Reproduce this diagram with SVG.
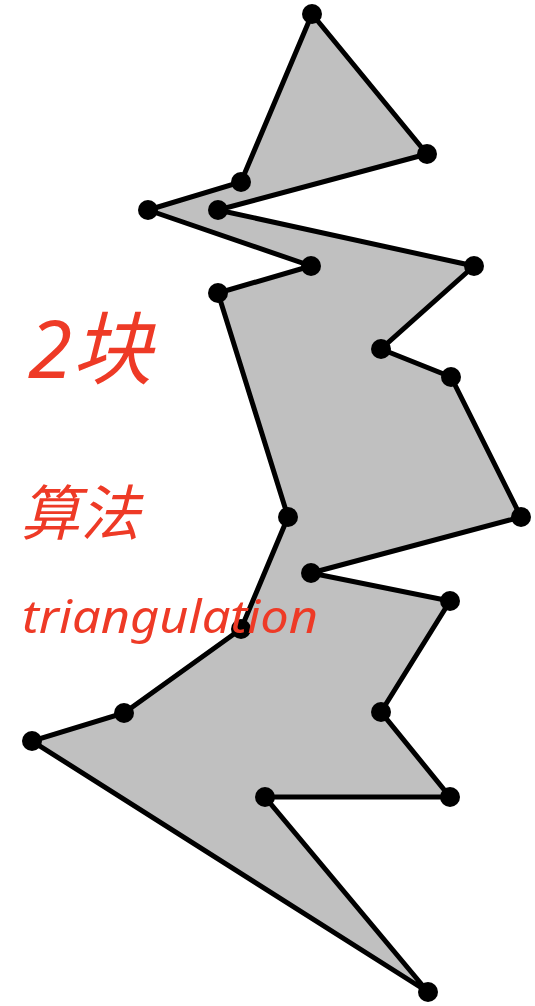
<svg xmlns="http://www.w3.org/2000/svg" width="535" height="1006" viewBox="0 0 535 1006">
<style>
.poly{fill:#c0c0c0;stroke:#000;stroke-width:5;stroke-linejoin:miter;stroke-miterlimit:4}
.v{fill:#000}
.note{fill:#ee3a26;font-family:"Noto Sans","Noto Sans CJK SC",sans-serif;font-style:italic}
</style>
<rect width="535" height="1006" fill="#fff"/>
<g id="connectors">
<polygon class="poly" points="312,14 427,154 218,210 474,266 381,349 451,377 521,517 311,573 450,601 381,712 450,797 265,797 428,992 32,741 124,713 241,629 288,517 218,293 311,266 148,210 241,182"/>
</g>
<g id="vertices">
<circle id="v1" class="v" cx="312" cy="14" r="10"/>
<circle id="v2" class="v" cx="427" cy="154" r="10"/>
<circle id="v3" class="v" cx="218" cy="210" r="10"/>
<circle id="v4" class="v" cx="474" cy="266" r="10"/>
<circle id="v5" class="v" cx="381" cy="349" r="10"/>
<circle id="v6" class="v" cx="451" cy="377" r="10"/>
<circle id="v7" class="v" cx="521" cy="517" r="10"/>
<circle id="v8" class="v" cx="311" cy="573" r="10"/>
<circle id="v9" class="v" cx="450" cy="601" r="10"/>
<circle id="v10" class="v" cx="381" cy="712" r="10"/>
<circle id="v11" class="v" cx="450" cy="797" r="10"/>
<circle id="v12" class="v" cx="265" cy="797" r="10"/>
<circle id="v13" class="v" cx="428" cy="992" r="10"/>
<circle id="v14" class="v" cx="32" cy="741" r="10"/>
<circle id="v15" class="v" cx="124" cy="713" r="10"/>
<circle id="v16" class="v" cx="241" cy="629" r="10"/>
<circle id="v17" class="v" cx="288" cy="517" r="10"/>
<circle id="v18" class="v" cx="218" cy="293" r="10"/>
<circle id="v19" class="v" cx="311" cy="266" r="10"/>
<circle id="v20" class="v" cx="148" cy="210" r="10"/>
<circle id="v21" class="v" cx="241" cy="182" r="10"/>
</g>
<g id="notes">
<text class="note" x="28" y="378" font-size="80">2块</text>
<text class="note" x="20" y="535" font-size="60">算法</text>
<text class="note" x="22" y="633" font-size="46" textLength="296" lengthAdjust="spacingAndGlyphs">triangulation</text>
</g>
</svg>
